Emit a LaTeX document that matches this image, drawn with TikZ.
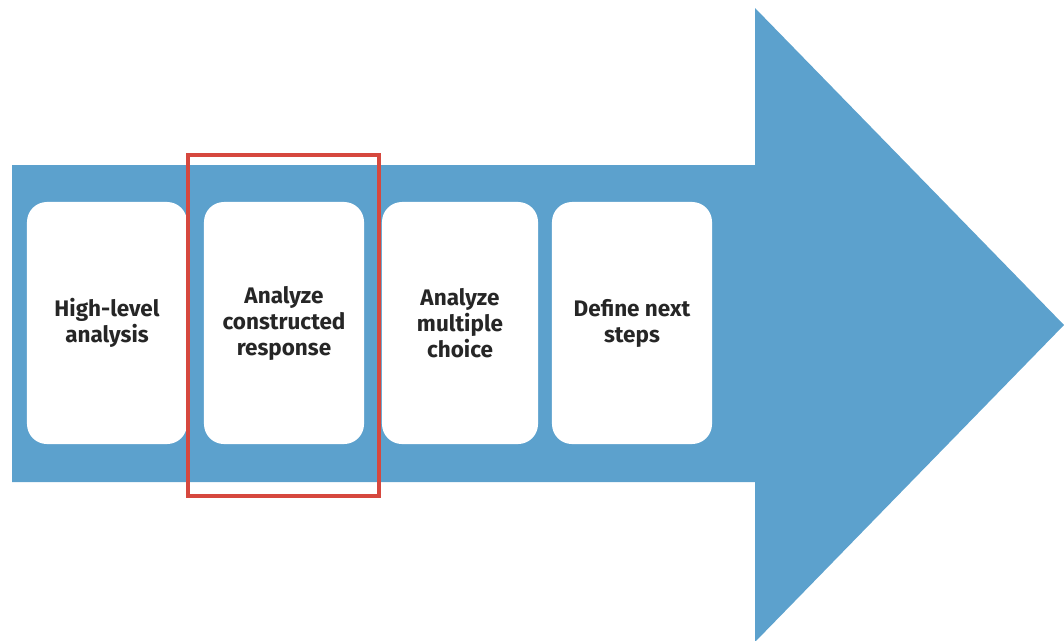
\documentclass[tikz,border=0pt]{standalone}
\usepackage{fontspec}
\setmainfont{Fira Sans}
\usepackage{xcolor}
\definecolor{arrowblue}{RGB}{92,161,205}
\definecolor{markred}{RGB}{214,72,62}

\begin{document}
\begin{tikzpicture}[x=0.025cm, y=-0.025cm,
    stepcard/.style={fill=white, rounded corners=0.5cm, minimum width=4cm, minimum height=6.05cm,
        align=center, font=\fontsize{16}{18.5}\selectfont\bfseries, text=black!85, inner sep=0pt}]
    \useasboundingbox (0,0) rectangle (1064,640);

    % big arrow
    \fill[arrowblue] (12,165) -- (755,165) -- (755,8) -- (1064,325) -- (755,642)
        -- (755,482) -- (12,482) -- cycle;

    % the four steps
    \node[stepcard] (high)   at (107,323)   {High-level\\analysis};
    \node[stepcard] (constr) at (284,323)   {Analyze\\constructed\\response};
    \node[stepcard, minimum width=3.9cm] (multi) at (460,323) {Analyze\\multiple\\choice};
    \node[stepcard] (next)   at (632,323)   {Define next\\steps};

    % highlight
    \draw[markred, line width=2.8pt] (188,155) rectangle (379,496);
\end{tikzpicture}
\end{document}
